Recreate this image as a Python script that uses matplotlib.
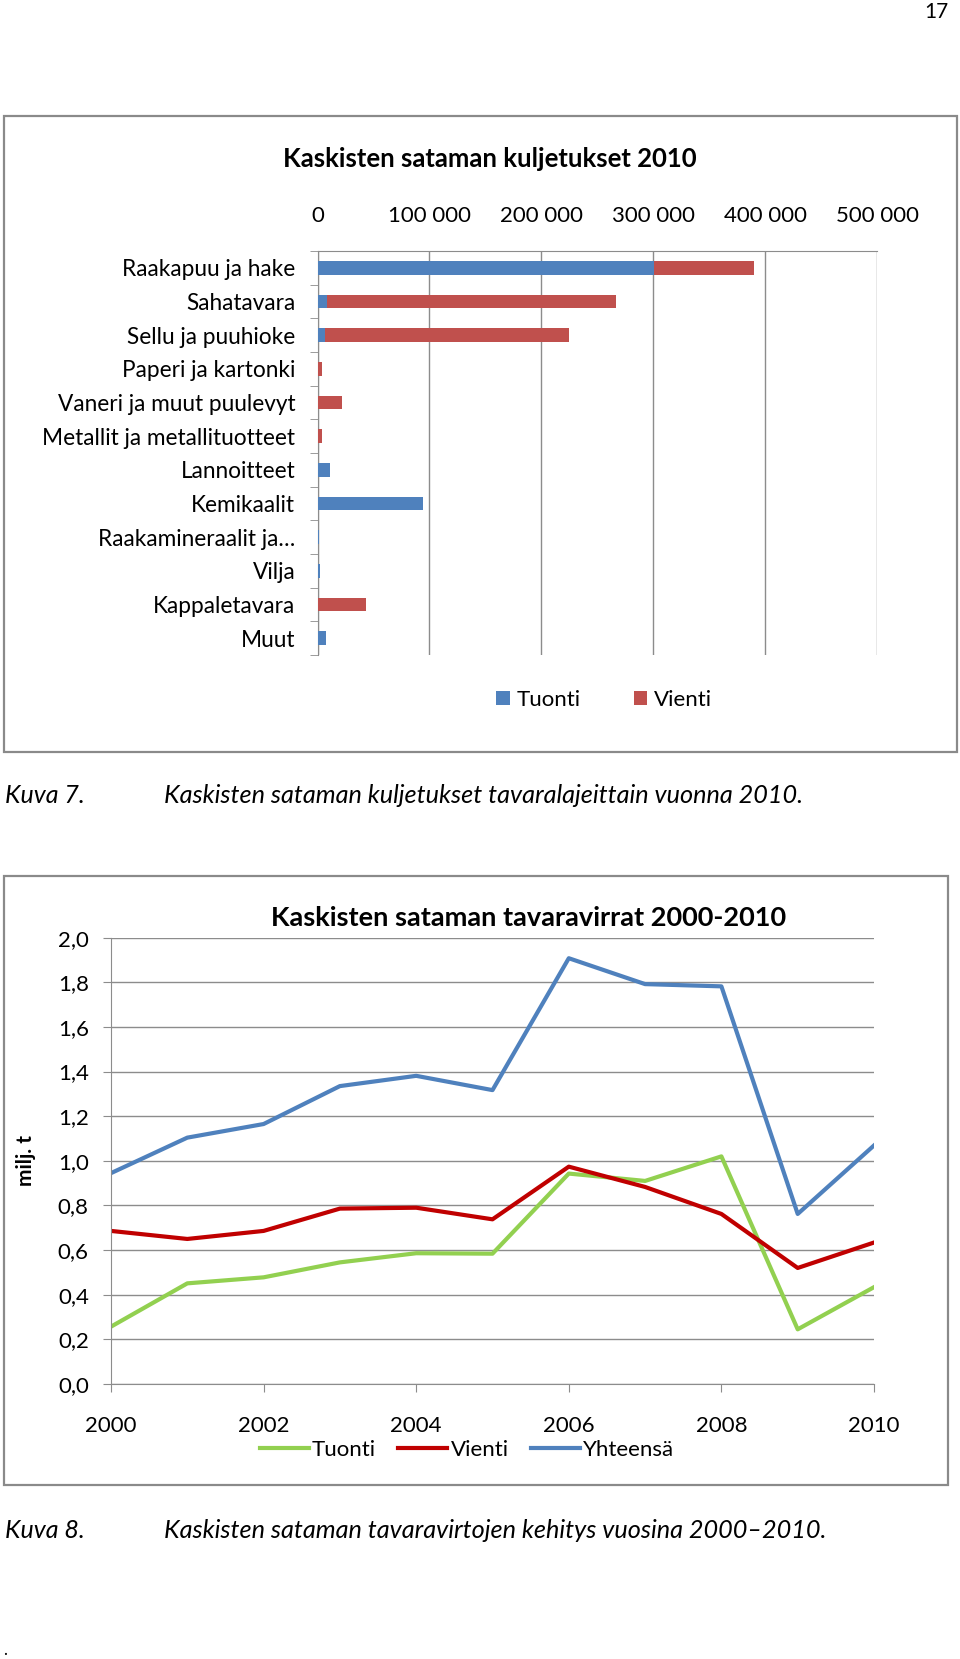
import matplotlib.pyplot as plt
from matplotlib.patches import Rectangle
from matplotlib.lines import Line2D
from matplotlib.ticker import FuncFormatter

plt.rcParams['font.family'] = ['Lato', 'DejaVu Sans']

# Kuva 7 data: kuljetukset tavaralajeittain 2010 (tonnia)
categories = ["Raakapuu ja hake", "Sahatavara", "Sellu ja puuhioke", "Paperi ja kartonki",
              "Vaneri ja muut puulevyt", "Metallit ja metallituotteet", "Lannoitteet",
              "Kemikaalit", "Raakamineraalit ja…", "Vilja", "Kappaletavara", "Muut"]
tuonti_2010 = [301000, 8200, 7000, 0, 0, 0, 10900, 94000, 1400, 2600, 0, 8000]
vienti_2010 = [89000, 259000, 218000, 3800, 21500, 3800, 0, 0, 0, 0, 43600, 0]
bar_ticks = [0, 100000, 200000, 300000, 400000, 500000]

# Kuva 8 data: tavaravirrat 2000-2010 (milj. t)
years = [2000, 2001, 2002, 2003, 2004, 2005, 2006, 2007, 2008, 2009, 2010]
tuonti = [0.257, 0.451, 0.478, 0.545, 0.586, 0.584, 0.943, 0.910, 1.020, 0.245, 0.434]
vienti = [0.686, 0.650, 0.686, 0.786, 0.790, 0.738, 0.974, 0.883, 0.762, 0.520, 0.634]
yhteensa = [0.945, 1.104, 1.165, 1.335, 1.381, 1.317, 1.908, 1.792, 1.782, 0.762, 1.069]

W, H = 960, 1659
fig = plt.figure(figsize=(W / 100, H / 100), dpi=100)

BLUE = "#4F81BD"
RED = "#C0504D"
GRID = "#8C8C8C"


def fx(px):
    return px / W


def fy(py):
    return 1 - py / H


# page number
fig.text(fx(949), fy(12), "17", ha="right", va="center", fontsize=15)

# frames around the two charts
fig.patches.append(Rectangle((fx(4), fy(752)), fx(957) - fx(4), fy(116) - fy(752),
                             transform=fig.transFigure, fill=False, ec="#8A8A8A", lw=1.6))
fig.patches.append(Rectangle((fx(4), fy(1485)), fx(948) - fx(4), fy(876) - fy(1485),
                             transform=fig.transFigure, fill=False, ec="#8A8A8A", lw=1.6))

# ---- chart 1: horizontal stacked bars ----
ax1 = fig.add_axes([fx(317.5), fy(655), fx(877) - fx(317.5), fy(251) - fy(655)])
pos = list(range(len(categories)))
b1 = ax1.barh(pos, tuonti_2010, height=0.4, color=BLUE, label="Tuonti", zorder=3)
b2 = ax1.barh(pos, vienti_2010, left=tuonti_2010, height=0.4, color=RED, label="Vienti", zorder=3)
ax1.set_xlim(0, 500000)
ax1.set_ylim(len(categories) - 0.5, -0.5)
ax1.set_xticks(bar_ticks)
ax1.xaxis.set_major_formatter(FuncFormatter(lambda v, p: f"{int(v):,}".replace(",", " ")))
ax1.xaxis.tick_top()
ax1.tick_params(axis="x", length=0, pad=18, labelsize=16)
ax1.set_yticks(pos)
ax1.set_yticklabels(categories, fontsize=16.3)
ax1.set_yticks([p + 0.5 for p in [-1] + pos], minor=True)
ax1.tick_params(axis="y", which="major", length=0, pad=16)
ax1.tick_params(axis="y", which="minor", length=6, color=GRID, direction="out")
ax1.grid(axis="x", color=GRID, lw=1)
for s in ["right", "bottom"]:
    ax1.spines[s].set_visible(False)
for s in ["top", "left"]:
    ax1.spines[s].set_color(GRID)
fig.text(fx(490), fy(159), "Kaskisten sataman kuljetukset 2010", fontsize=18.5,
         fontweight="bold", ha="center", va="center")
fig.legend(handles=[b1, b2], loc="center", bbox_to_anchor=(fx(604), fy(700)), ncol=2,
           frameon=False, fontsize=16, handlelength=0.6, handleheight=0.6,
           handletextpad=0.3, columnspacing=2.4)

fig.text(fx(5), fy(796), "Kuva 7.", fontsize=18, style="italic", va="center")
fig.text(fx(164), fy(796), "Kaskisten sataman kuljetukset tavaralajeittain vuonna 2010.",
         fontsize=18.2, style="italic", va="center")

# ---- chart 2: lines ----
ax2 = fig.add_axes([fx(111), fy(1384), fx(874) - fx(111), fy(937.7) - fy(1384)])
ax2.plot(years, tuonti, color="#92D050", lw=3, label="Tuonti")
ax2.plot(years, vienti, color="#C00000", lw=3, label="Vienti")
ax2.plot(years, yhteensa, color=BLUE, lw=3, label="Yhteensä")
ax2.set_xlim(2000, 2010)
ax2.set_ylim(0, 2.0)
ax2.set_xticks(years[::2])
ax2.set_yticks([i * 0.2 for i in range(11)])
ax2.yaxis.set_major_formatter(FuncFormatter(lambda v, p: f"{v:.1f}".replace(".", ",")))
ax2.tick_params(axis="y", length=6, color=GRID, labelsize=16, pad=10)
ax2.tick_params(axis="x", length=6, color=GRID, labelsize=16, pad=17)
ax2.grid(axis="y", color=GRID, lw=1)
ax2.set_axisbelow(True)
for s in ["right", "top"]:
    ax2.spines[s].set_visible(False)
for s in ["left", "bottom"]:
    ax2.spines[s].set_color(GRID)
ax2.set_ylabel("milj. t", fontsize=15, fontweight="bold", labelpad=16)
fig.text(fx(529), fy(918), "Kaskisten sataman tavaravirrat 2000-2010", fontsize=19.5,
         fontweight="bold", ha="center", va="center")
leg_handles = [Line2D([], [], color=c, lw=3) for c in ["#92D050", "#C00000", BLUE]]
fig.legend(handles=leg_handles, labels=["Tuonti", "Vienti", "Yhteensä"], loc="center",
           bbox_to_anchor=(fx(467), fy(1450)), ncol=3, frameon=False, fontsize=16,
           handlelength=2.2, handletextpad=0.15, columnspacing=1.0)

fig.text(fx(5), fy(1530), "Kuva 8.", fontsize=18, style="italic", va="center")
fig.text(fx(164), fy(1530), "Kaskisten sataman tavaravirtojen kehitys vuosina 2000–2010.",
         fontsize=18.2, style="italic", va="center")
fig.text(fx(3), fy(1650), ".", fontsize=12, va="center")

fig.savefig("out.png", dpi=100)
